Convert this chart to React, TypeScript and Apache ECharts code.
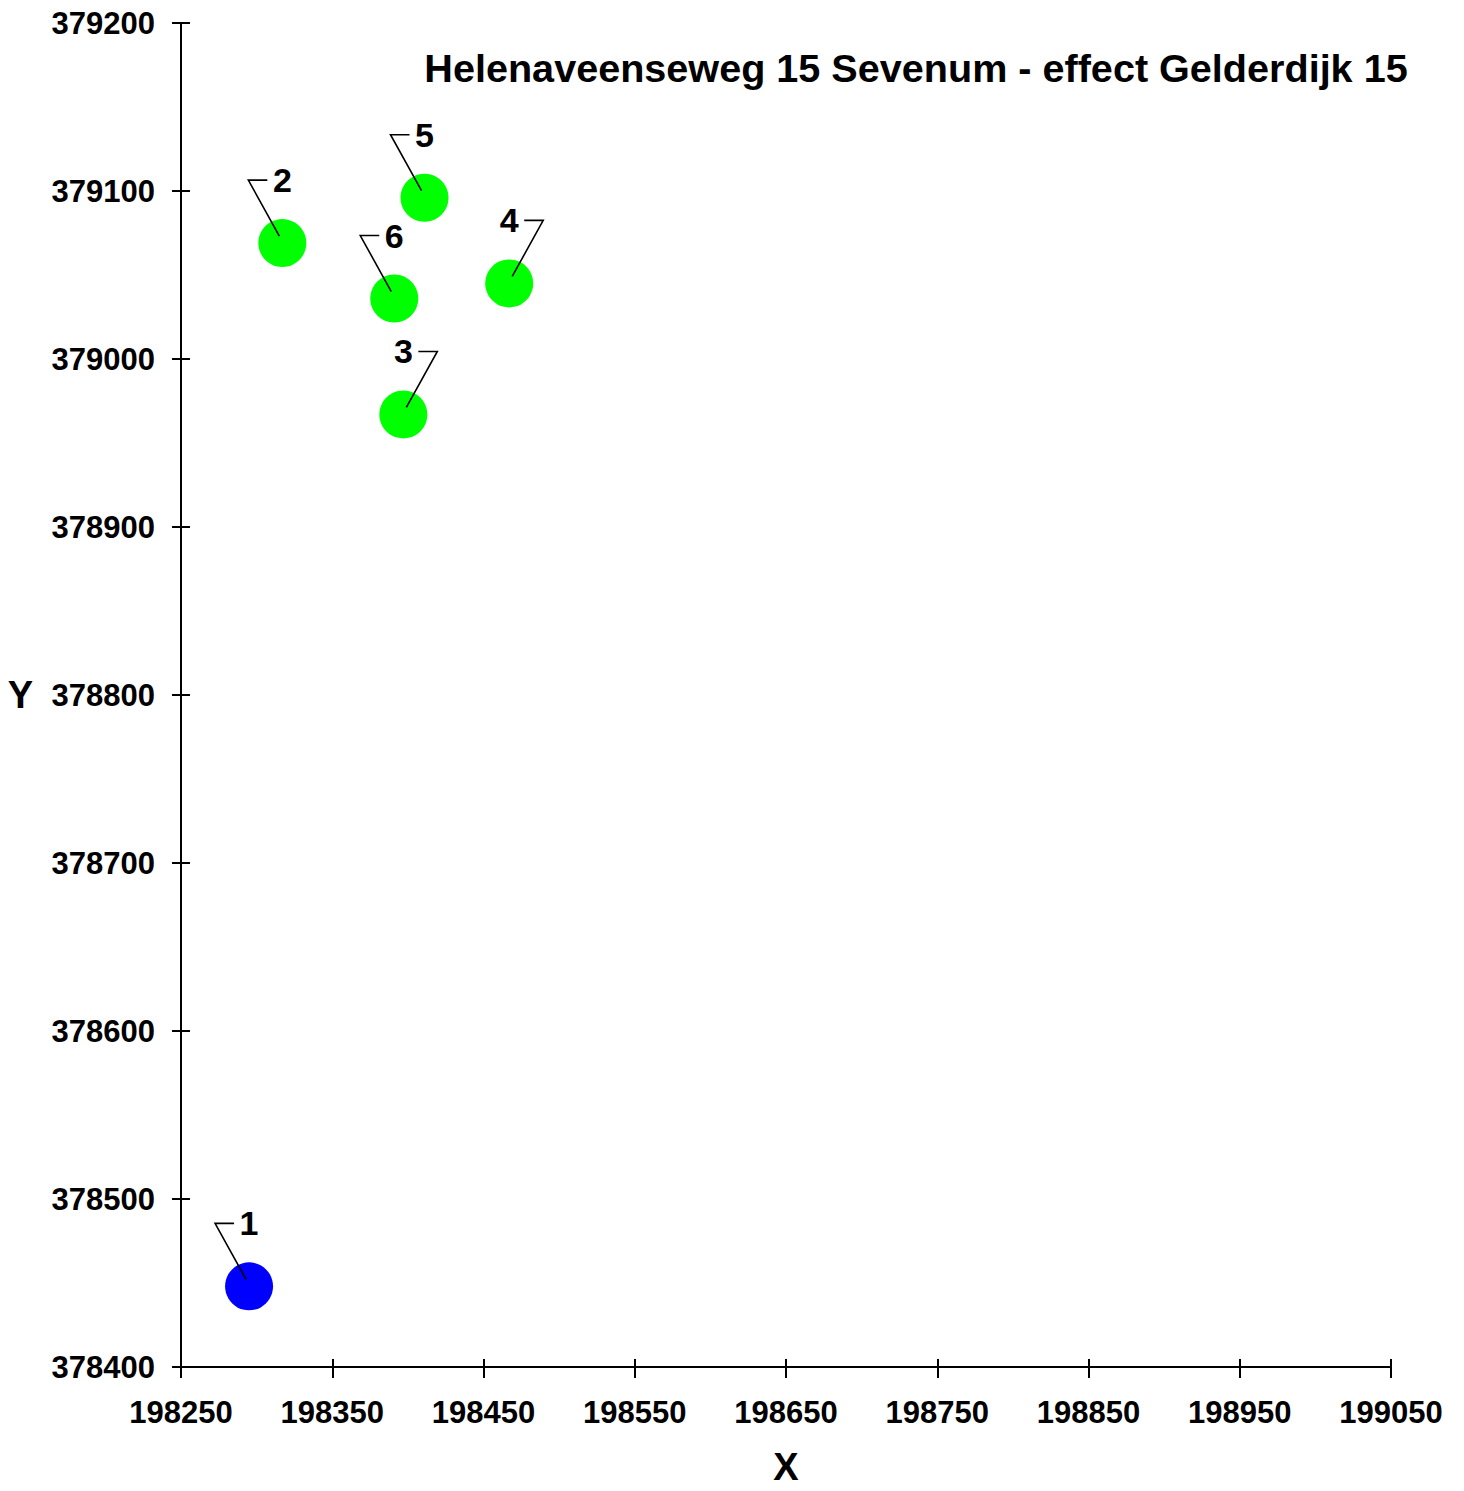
import React, { useEffect, useRef } from "react";
import * as echarts from "echarts";

const TITLE = "Helenaveenseweg 15 Sevenum - effect Gelderdijk 15";
const pointIds = ["1", "2", "3", "4", "5", "6"];
const pointX = [198295, 198317, 198397, 198467, 198411, 198391];
const pointY = [378448, 379069, 378967, 379045, 379096, 379036];
const labelSide = ["left", "left", "right", "right", "left", "left"];
const sourceIds = ["1"];

const X_MIN = 198250;
const X_MAX = 199050;
const Y_MIN = 378400;
const Y_MAX = 379200;
const STEP = 100;

const FONT = "'Liberation Sans', Arial, sans-serif";

export default function App() {
  const ref = useRef<HTMLDivElement>(null);
  useEffect(() => {
    if (!ref.current) return;
    const chart = echarts.init(ref.current, null, { renderer: "svg" });
    const gridLeft = 181;
    const gridRight = 73;
    const gridTop = 23;
    const gridBottom = 124;
    const gridW = 1464 - gridLeft - gridRight;
    const gridH = 1491 - gridTop - gridBottom;

    const rows = pointIds.map((id, i) => [pointX[i], pointY[i], id]);
    const blueRows = rows.filter((r) => sourceIds.includes(r[2] as string));
    const greenRows = rows.filter((r) => !sourceIds.includes(r[2] as string));

    const axisLabelStyle = {
      color: "#000",
      fontSize: 31,
      fontWeight: "bold" as const,
      fontFamily: FONT,
      formatter: (v: number) => String(Math.round(v)),
    };

    chart.setOption({
      animation: false,
      backgroundColor: "#fff",
      title: {
        text: TITLE,
        left: 911,
        top: 43,
        textAlign: "center",
        textStyle: { fontSize: 39.6, fontWeight: "bold", fontFamily: FONT, color: "#000" },
      },
      grid: {
        left: gridLeft,
        right: gridRight,
        top: gridTop,
        bottom: gridBottom,
        containLabel: false,
        outerBoundsMode: "none",
      },
      xAxis: [
        {
          type: "value",
          min: X_MIN,
          max: X_MAX,
          interval: STEP,
          position: "bottom",
          name: "X",
          nameLocation: "middle",
          nameGap: 81,
          nameTextStyle: { fontSize: 38, fontWeight: "bold", fontFamily: FONT, color: "#000" },
          axisLine: { show: true, onZero: false, lineStyle: { color: "#000", width: 2 } },
          axisTick: { show: true, inside: false, length: 11, lineStyle: { color: "#000", width: 2 } },
          axisLabel: { ...axisLabelStyle, margin: 30, showMinLabel: true, showMaxLabel: true },
          splitLine: { show: false },
        },
        {
          type: "value",
          min: X_MIN,
          max: X_MAX,
          interval: STEP,
          position: "top",
          offset: -gridH,
          axisLine: { show: true, onZero: false, lineStyle: { color: "#000", width: 2 } },
          axisTick: { show: true, inside: false, length: 8, lineStyle: { color: "#000", width: 2 } },
          axisLabel: { show: false },
          splitLine: { show: false },
        },
      ],
      yAxis: [
        {
          type: "value",
          min: Y_MIN,
          max: Y_MAX,
          interval: STEP,
          position: "left",
          name: "Y",
          nameLocation: "middle",
          nameGap: 148,
          nameRotate: 0,
          nameTextStyle: { fontSize: 38, fontWeight: "bold", fontFamily: FONT, color: "#000" },
          axisLine: { show: true, onZero: false, lineStyle: { color: "#000", width: 2 } },
          axisTick: { show: true, inside: false, length: 9, lineStyle: { color: "#000", width: 2 } },
          axisLabel: { ...axisLabelStyle, margin: 26, showMinLabel: true, showMaxLabel: true },
          splitLine: { show: false },
        },
        {
          type: "value",
          min: Y_MIN,
          max: Y_MAX,
          interval: STEP,
          position: "right",
          offset: -gridW,
          axisLine: { show: true, onZero: false, lineStyle: { color: "#000", width: 2 } },
          axisTick: { show: true, inside: false, length: 9, lineStyle: { color: "#000", width: 2 } },
          axisLabel: { show: false },
          splitLine: { show: false },
        },
      ],
      series: [
        {
          type: "scatter",
          name: "bron",
          xAxisIndex: 0,
          yAxisIndex: 0,
          data: blueRows,
          symbol: "circle",
          symbolSize: 48,
          itemStyle: { color: "#0000ff", opacity: 1 },
          z: 2,
        },
        {
          type: "scatter",
          name: "objecten",
          xAxisIndex: 0,
          yAxisIndex: 0,
          data: greenRows,
          symbol: "circle",
          symbolSize: 48,
          itemStyle: { color: "#00ff00", opacity: 1 },
          z: 2,
        },
        {
          type: "custom",
          name: "labels",
          xAxisIndex: 0,
          yAxisIndex: 0,
          data: rows,
          z: 5,
          silent: true,
          renderItem: (params: any, api: any) => {
            const p = api.coord([api.value(0), api.value(1)]);
            const idx = params.dataIndex;
            const s = labelSide[idx] === "left" ? -1 : 1;
            const lx = p[0];
            const ly = p[1] - 63;
            return {
              type: "group",
              children: [
                {
                  type: "polyline",
                  shape: {
                    points: [
                      [p[0] + s * 3, p[1] - 7],
                      [p[0] + s * 34, ly],
                      [p[0] + s * 15, ly],
                    ],
                  },
                  style: { stroke: "#000", lineWidth: 1.6, fill: null },
                },
                {
                  type: "text",
                  x: lx,
                  y: ly,
                  style: {
                    text: String(pointIds[idx]),
                    fontSize: 34,
                    fontWeight: "bold",
                    fontFamily: FONT,
                    fill: "#000",
                    align: "center",
                    verticalAlign: "middle",
                  },
                },
              ],
            };
          },
        },
      ],
    });
    return () => chart.dispose();
  }, []);
  return (
    <div
      ref={ref}
      style={{ position: "absolute", left: 0, top: 0, width: 1464, height: 1491, background: "#fff" }}
    />
  );
}
